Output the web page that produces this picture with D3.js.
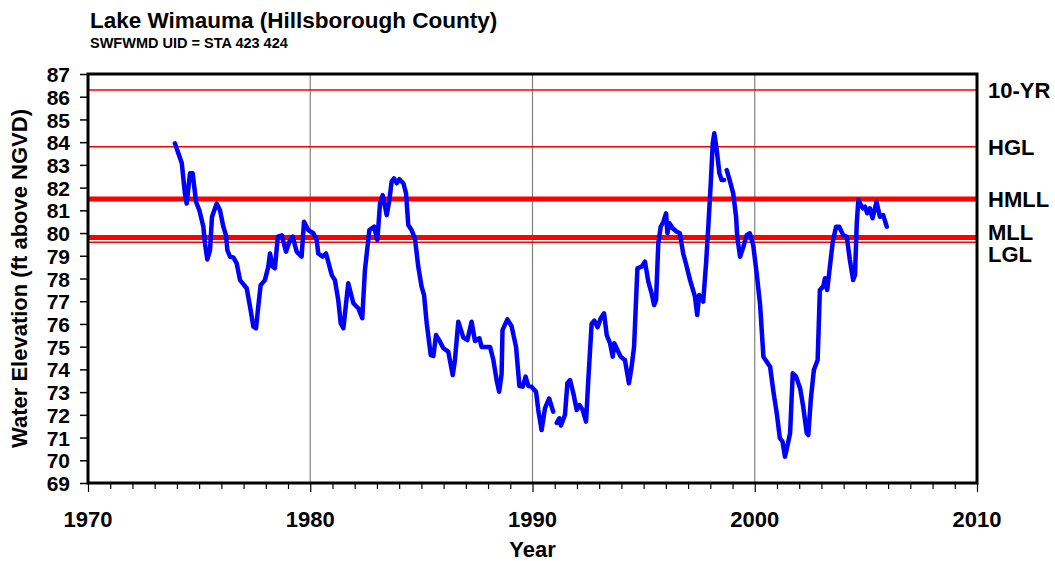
<!DOCTYPE html>
<html>
<head>
<meta charset="utf-8">
<script src="https://cdn.jsdelivr.net/npm/d3@7/dist/d3.min.js"></script>
<style>
body { margin: 0; background: #fff; }
text { font-family: "Liberation Sans", Arial, sans-serif; font-weight: bold; fill: #000; }
</style>
</head>
<body>
<div id="chart"></div>
<script>
// lake level record, decimal years (null = gap in record)
const years = [
  1973.91, 1974.22, 1974.36, 1974.44, 1974.59, 1974.71, 1974.86, 1975.01, 1975.19, 1975.26,
  1975.37, 1975.49, 1975.58, 1975.79, 1975.94, 1976.09, 1976.21, 1976.27, 1976.39, 1976.54,
  1976.69, 1976.84, 1977.14, 1977.29, 1977.44, 1977.56, 1977.66, 1977.77, 1977.96, 1978.11,
  1978.19, 1978.31, 1978.41, 1978.54, 1978.72, 1978.91, 1979.09, 1979.21, 1979.39, 1979.61,
  1979.72, 1979.91, 1980.14, 1980.29, 1980.36, 1980.56, 1980.71, 1980.97, 1981.11, 1981.26,
  1981.37, 1981.49, 1981.71, 1981.94, 1982.16, 1982.34, 1982.46, 1982.66, 1982.87, 1983.02,
  1983.14, 1983.26, 1983.44, 1983.56, 1983.66, 1983.77, 1983.89, 1984.01, 1984.19, 1984.31,
  1984.41, 1984.56, 1984.71, 1984.86, 1985.01, 1985.12, 1985.24, 1985.42, 1985.54, 1985.66,
  1985.84, 1985.99, 1986.21, 1986.41, 1986.51, 1986.66, 1986.89, 1987.07, 1987.26, 1987.41,
  1987.61, 1987.71, 1988.09, 1988.24, 1988.39, 1988.5, 1988.61, 1988.65, 1988.87, 1989.06,
  1989.26, 1989.41, 1989.56, 1989.69, 1989.81, 1989.96, 1990.16, 1990.26, 1990.41, 1990.56,
  1990.75, 1990.93, 1991.0,
  1991.09, 1991.21, 1991.28, 1991.46, 1991.57, 1991.69, 1991.84, 1991.99, 1992.11, 1992.26,
  1992.41, 1992.51, 1992.66, 1992.78, 1992.93, 1993.07, 1993.22, 1993.34, 1993.49, 1993.61,
  1993.68, 1993.86, 1993.97, 1994.16, 1994.34, 1994.46, 1994.57, 1994.72, 1994.91, 1995.06,
  1995.21, 1995.36, 1995.47, 1995.56, 1995.66, 1995.77, 1995.89, 1996.01, 1996.07, 1996.16,
  1996.31, 1996.49, 1996.63, 1996.78, 1996.9, 1997.09, 1997.31, 1997.41, 1997.5, 1997.68,
  1997.81, 1997.91, 1998.02, 1998.11, 1998.18, 1998.29, 1998.41, 1998.51, 1998.62, 1998.68,
  1998.74, 1998.89, 1999.03, 1999.16, 1999.21, 1999.34, 1999.49, 1999.64, 1999.78, 1999.93,
  2000.09, 2000.24, 2000.39, 2000.54, 2000.69, 2000.84, 2000.99, 2001.13, 2001.25, 2001.36,
  2001.46, 2001.59, 2001.71, 2001.86, 2002.04, 2002.18, 2002.34, 2002.41, 2002.52, 2002.66,
  2002.83, 2002.93, 2003.08, 2003.16, 2003.26, 2003.38, 2003.51, 2003.66, 2003.8, 2003.98,
  2004.14, 2004.28, 2004.43, 2004.51, 2004.59, 2004.66, 2004.86, 2004.96, 2005.06, 2005.18,
  2005.3, 2005.48, 2005.63, 2005.78, 2005.94
];
const elevation = [
  83.95, 83.07, 81.75, 81.3, 82.63, 82.63, 81.38, 81.0, 80.28, 79.55,
  78.84, 79.25, 80.72, 81.3, 81.0, 80.28, 79.9, 79.25, 78.96, 78.93,
  78.67, 77.93, 77.57, 76.76, 75.88, 75.81, 76.76, 77.71, 77.93, 78.52,
  79.1, 78.52, 78.45, 79.84, 79.9, 79.18, 79.7, 79.84, 79.18, 78.96,
  80.5, 80.13, 79.99, 79.7, 79.1, 78.96, 79.1, 78.15, 77.93, 77.05,
  76.03, 75.81, 77.79, 76.91, 76.69, 76.25, 78.37, 80.13, 80.28, 79.7,
  81.31, 81.67, 80.79, 81.45, 82.26, 82.41, 82.19, 82.37, 82.19, 81.75,
  80.35, 80.13, 79.77, 78.52, 77.64, 77.27, 76.03, 74.63, 74.59, 75.51,
  75.22, 74.93, 74.78, 73.75, 74.41, 76.1, 75.4, 75.29, 76.1, 75.25,
  75.37, 74.99, 74.99, 74.41, 73.5, 73.02, 73.8, 75.73, 76.2, 75.9,
  74.99, 73.27, 73.24, 73.68, 73.27, 73.24, 73.02, 72.21, 71.33, 72.28,
  72.72, 72.14, null,
  71.65, 71.85, 71.53, 71.99, 73.39, 73.53, 72.94, 72.21, 72.43, 72.21,
  71.7, 73.53, 76.0, 76.15, 75.85, 76.25, 76.47, 75.51, 75.15, 74.56,
  75.15, 74.78, 74.56, 74.41, 73.39, 74.12, 74.99, 78.45, 78.52, 78.74,
  77.86, 77.35, 76.83, 77.05, 79.55, 80.28, 80.5, 80.87, 79.99, 80.43,
  80.21, 80.06, 79.99, 79.1, 78.67, 77.93, 77.2, 76.39, 77.27, 76.98,
  78.67, 80.28, 82.19, 83.95, 84.39, 83.65, 82.63, 82.33, 82.33, null,
  82.77, 82.26, 81.75, 80.72, 79.84, 78.96, 79.4, 79.91, 79.99, 79.47,
  78.2, 76.85, 74.56, 74.34, 74.12, 73.02, 72.07, 70.97, 70.82, 70.16,
  70.6, 71.19, 73.83, 73.68, 73.17, 72.36, 71.19, 71.11, 72.65, 73.97,
  74.41, 77.49, 77.64, 78.01, 77.49, 78.52, 79.62, 80.28, 80.28, 79.91,
  79.84, 78.81, 77.93, 78.15, 80.43, 81.45, 81.09, 81.16, 80.87, 81.09,
  80.65, 81.38, 80.72, 80.79, 80.28
];

// reference levels
const levelNames = ["10-YR", "HGL", "HMLL", "MLL", "LGL"];
const levelValues = [86.3, 83.8, 81.5, 79.8, 79.6];
const levelThick = [false, false, true, true, false];

const xTickLabels = [1970, 1980, 1990, 2000, 2010];
const yTickLabels = d3.range(69, 88);

// chart dimensions
const W = 1055, H = 561;
const margin = {top: 74, right: 78, bottom: 78, left: 88};
const width = W - margin.left - margin.right;
const height = H - margin.top - margin.bottom;

const svg = d3.select("#chart").append("svg")
  .attr("width", W)
  .attr("height", H);

const g = svg.append("g")
  .attr("transform", "translate(" + margin.left + "," + margin.top + ")");

const x = d3.scaleLinear().domain([1970, 2010]).range([0, width]);
const y = d3.scaleLinear().domain([69, 87]).range([height, 0]);

// vertical grid lines at the decades
g.selectAll("line.vgrid")
  .data(xTickLabels.slice(1, -1))
  .enter().append("line")
  .attr("class", "vgrid")
  .attr("x1", d => x(d)).attr("x2", d => x(d))
  .attr("y1", 0).attr("y2", height)
  .style("stroke", "#808080")
  .style("stroke-width", 1.2);

// reference level lines
g.selectAll("line.level")
  .data(levelValues)
  .enter().append("line")
  .attr("class", "level")
  .attr("x1", 0).attr("x2", width)
  .attr("y1", d => y(d)).attr("y2", d => y(d))
  .style("stroke", "#ff0000")
  .style("stroke-width", (d, i) => levelThick[i] ? 5 : 1.5);

// water level line
const pts = years.map((yr, i) => [yr, elevation[i]]);
const line = d3.line()
  .defined(d => d[1] != null)
  .x(d => x(d[0]))
  .y(d => y(d[1]));

g.append("path")
  .datum(pts)
  .attr("d", line)
  .style("fill", "none")
  .style("stroke", "#0000ff")
  .style("stroke-width", 4.5)
  .style("stroke-linejoin", "round")
  .style("stroke-linecap", "round");

// axes
const xAxis = d3.axisBottom(x)
  .tickValues(d3.range(1970, 2011))
  .tickSize(6)
  .tickFormat("");
const xAxisG = g.append("g")
  .attr("transform", "translate(0," + height + ")")
  .call(xAxis);
xAxisG.select(".domain").remove();
xAxisG.selectAll(".tick line").style("stroke", "#000").style("stroke-width", 1.2)
  .attr("y2", d => d % 10 === 0 ? 9 : 6);

g.selectAll("text.xlab")
  .data(xTickLabels)
  .enter().append("text")
  .attr("class", "xlab")
  .attr("x", d => x(d))
  .attr("y", height + 44)
  .attr("text-anchor", "middle")
  .style("font-size", "22px")
  .text(d => d);

const yAxis = d3.axisLeft(y)
  .tickValues(yTickLabels)
  .tickSize(8)
  .tickPadding(10)
  .tickFormat(d3.format("d"));
const yAxisG = g.append("g").call(yAxis);
yAxisG.select(".domain").remove();
yAxisG.selectAll(".tick line").style("stroke", "#000").style("stroke-width", 1.5);
yAxisG.selectAll(".tick text")
  .style("font-family", "'Liberation Sans', Arial, sans-serif")
  .style("font-weight", "bold")
  .style("font-size", "21px")
  .attr("dy", "0.36em");

// frame
g.append("rect")
  .attr("x", 0).attr("y", 0)
  .attr("width", width).attr("height", height)
  .style("fill", "none")
  .style("stroke", "#000")
  .style("stroke-width", 3);

// level labels on the right
const labelShift = [0, 0, 0, -6, 12];
g.selectAll("text.levlab")
  .data(levelNames)
  .enter().append("text")
  .attr("class", "levlab")
  .attr("x", width + 11)
  .attr("y", (d, i) => y(levelValues[i]) + labelShift[i])
  .attr("dy", "0.36em")
  .style("font-size", "22px")
  .text(d => d);

// titles
svg.append("text")
  .attr("x", 90).attr("y", 28)
  .style("font-size", "22.5px")
  .text("Lake Wimauma (Hillsborough County)");
svg.append("text")
  .attr("x", 90).attr("y", 48)
  .style("font-size", "14.5px")
  .text("SWFWMD UID = STA 423 424");

svg.append("text")
  .attr("x", margin.left + width / 2).attr("y", 557)
  .attr("text-anchor", "middle")
  .style("font-size", "22px")
  .text("Year");

svg.append("text")
  .attr("transform", "translate(27," + (margin.top + height / 2) + ") rotate(-90)")
  .attr("text-anchor", "middle")
  .style("font-size", "22px")
  .text("Water Elevation (ft above NGVD)");
</script>
</body>
</html>
